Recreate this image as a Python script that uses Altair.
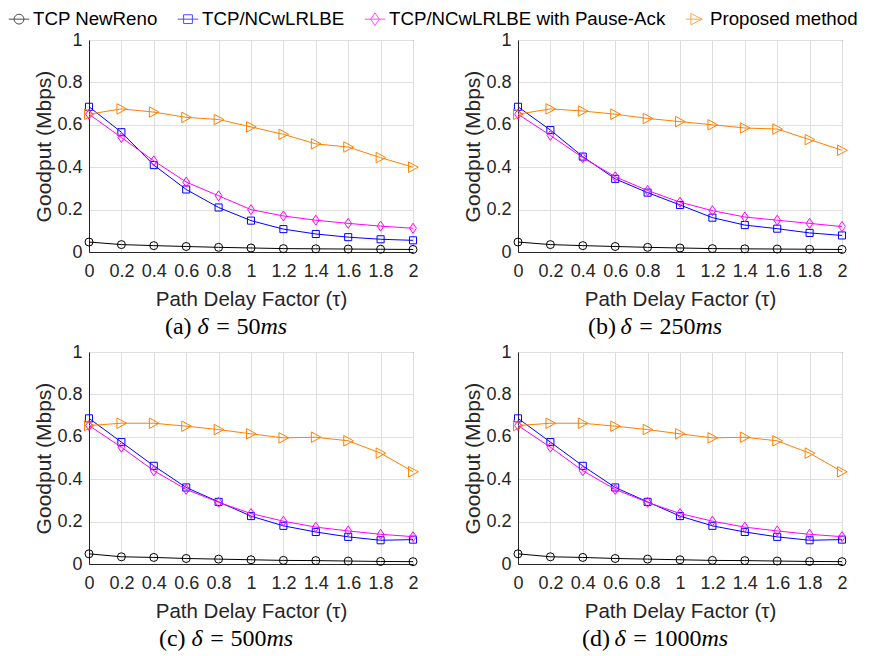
import altair as alt
import pandas as pd

# ---------------- data ----------------
tau = [0, 0.2, 0.4, 0.6, 0.8, 1.0, 1.2, 1.4, 1.6, 1.8, 2.0]
series_names = ["TCP NewReno", "TCP/NCwLRLBE", "TCP/NCwLRLBE with Pause-Ack", "Proposed method"]
series_colors = ["#000000", "#0000ff", "#ff00ff", "#ff8000"]

a_newreno = [0.047, 0.035, 0.030, 0.026, 0.022, 0.019, 0.016, 0.015, 0.014, 0.013, 0.012]
a_ncw     = [0.685, 0.565, 0.410, 0.295, 0.210, 0.148, 0.108, 0.085, 0.070, 0.060, 0.055]
a_pause   = [0.650, 0.540, 0.430, 0.330, 0.265, 0.200, 0.170, 0.150, 0.135, 0.122, 0.112]
a_prop    = [0.650, 0.675, 0.660, 0.635, 0.625, 0.590, 0.555, 0.510, 0.495, 0.445, 0.400]

b_newreno = [0.047, 0.035, 0.030, 0.026, 0.022, 0.019, 0.016, 0.015, 0.014, 0.013, 0.012]
b_ncw     = [0.685, 0.575, 0.450, 0.345, 0.280, 0.222, 0.162, 0.127, 0.110, 0.090, 0.078]
b_pause   = [0.650, 0.550, 0.445, 0.355, 0.290, 0.235, 0.195, 0.165, 0.150, 0.135, 0.120]
b_prop    = [0.650, 0.675, 0.665, 0.650, 0.630, 0.615, 0.600, 0.585, 0.580, 0.530, 0.480]

c_newreno = [0.048, 0.034, 0.031, 0.026, 0.023, 0.020, 0.017, 0.016, 0.014, 0.012, 0.011]
c_ncw     = [0.687, 0.575, 0.463, 0.361, 0.293, 0.226, 0.180, 0.151, 0.128, 0.112, 0.115]
c_pause   = [0.653, 0.551, 0.440, 0.352, 0.291, 0.238, 0.202, 0.174, 0.156, 0.140, 0.129]
c_prop    = [0.653, 0.664, 0.664, 0.650, 0.634, 0.614, 0.595, 0.598, 0.581, 0.523, 0.435]

d_newreno = [0.048, 0.034, 0.031, 0.026, 0.023, 0.020, 0.017, 0.016, 0.014, 0.012, 0.011]
d_ncw     = [0.687, 0.575, 0.463, 0.361, 0.293, 0.226, 0.180, 0.151, 0.128, 0.112, 0.115]
d_pause   = [0.653, 0.551, 0.440, 0.352, 0.291, 0.238, 0.202, 0.174, 0.156, 0.140, 0.129]
d_prop    = [0.653, 0.664, 0.664, 0.650, 0.634, 0.614, 0.595, 0.598, 0.581, 0.523, 0.435]

panel_letters = ["(a)", "(b)", "(c)", "(d)"]
panel_delays = ["50", "250", "500", "1000"]
x_ticks = [0, 0.2, 0.4, 0.6, 0.8, 1.0, 1.2, 1.4, 1.6, 1.8, 2.0]
y_ticks = [0, 0.2, 0.4, 0.6, 0.8, 1.0]

panel_values = [
    [a_newreno, a_ncw, a_pause, a_prop],
    [b_newreno, b_ncw, b_pause, b_prop],
    [c_newreno, c_ncw, c_pause, c_prop],
    [d_newreno, d_ncw, d_pause, d_prop],
]

# ---------------- styles ----------------
W, H = 324, 212
SANS = "Liberation Sans"
SERIF = "Liberation Serif"
AXIS_COLOR = "#262626"

marker_shapes = [
    "circle",
    "square",
    "M0,-1L0.68,0L0,1L-0.68,0Z",
    "M-0.85,-1L1,0L-0.85,1Z",
]
marker_sizes = [64, 50, 100, 110]
legend_shapes = [
    "M-0.48,0A0.48,0.48 0 1 0 0.48,0A0.48,0.48 0 1 0 -0.48,0Z M-1,0H1",
    "M-0.43,-0.43H0.43V0.43H-0.43Z M-1,0H1",
    "M0,-0.62L0.42,0L0,0.62L-0.42,0Z M-1,0H1",
    "M-0.5,-0.55L0.6,0L-0.5,0.55Z M-1,0H0.6",
]

LEGEND = dict(orient="none", direction="horizontal", columns=4,
              legendX=-81, legendY=-32, title=None,
              labelFont=SANS, labelFontSize=18.7, labelColor="#000000", labelLimit=0,
              symbolSize=420, symbolStrokeWidth=1, labelOffset=3,
              columnPadding=17, padding=0)


def make_panel(idx, show_legend=False):
    rows = []
    for name, vals in zip(series_names, panel_values[idx]):
        for t, v in zip(tau, vals):
            rows.append({"series": name, "tau": t, "goodput": v})
    df = pd.DataFrame(rows)
    base = alt.Chart(df)

    X = alt.X(
        "tau:Q",
        scale=alt.Scale(domain=[0, 2], nice=False, zero=False),
        axis=alt.Axis(
            values=x_ticks, format="~g", title="Path Delay Factor (τ)",
            grid=True, gridColor="#dfdfdf", domainColor=AXIS_COLOR,
            ticks=False, labelFont=SANS, labelFontSize=18, labelColor=AXIS_COLOR,
            labelPadding=10, labelFlush=False, labelOverlap=False,
            titleFont=SANS, titleFontSize=20.5, titleFontWeight="normal",
            titleColor=AXIS_COLOR, titlePadding=9,
        ),
    )
    Y = alt.Y(
        "goodput:Q",
        scale=alt.Scale(domain=[0, 1], nice=False),
        axis=alt.Axis(
            values=y_ticks, format="~g", title="Goodput (Mbps)",
            grid=True, gridColor="#dfdfdf", domainColor=AXIS_COLOR,
            ticks=False, labelFont=SANS, labelFontSize=18, labelColor=AXIS_COLOR,
            labelPadding=7, labelFlush=False,
            titleFont=SANS, titleFontSize=21, titleFontWeight="normal",
            titleColor=AXIS_COLOR, titlePadding=2,
        ),
    )

    layers = []
    for name, color, shape, size in zip(series_names, series_colors, marker_shapes, marker_sizes):
        sub = base.transform_filter(alt.datum.series == name)
        layers.append(sub.mark_line(color=color, strokeWidth=1, clip=False).encode(x=X, y=Y))
        layers.append(
            sub.mark_point(shape=shape, color=color, size=size, strokeWidth=1,
                           filled=False, opacity=1, clip=False).encode(x=X, y=Y)
        )

    if show_legend:
        leg = base.transform_filter(alt.datum.tau < -1).mark_point(filled=False, strokeWidth=1).encode(
            x=X, y=Y,
            color=alt.Color("series:N", scale=alt.Scale(domain=series_names, range=series_colors),
                            legend=alt.Legend(**LEGEND)),
            shape=alt.Shape("series:N", scale=alt.Scale(domain=series_names, range=legend_shapes),
                            legend=alt.Legend(**LEGEND)),
        )
        layers.append(leg)

    # caption tokens: "(a) δ = 50ms" with italic δ and ms
    fs = 24
    letter = panel_letters[idx]
    num = panel_delays[idx]
    w_letter = 1.11 * fs
    w_delta = 0.5 * fs
    w_eq = 0.564 * fs
    w_num = 0.5 * fs * len(num)
    w_ms = 1.111 * fs
    sp = 0.25 * fs
    msp = 0.278 * fs
    total = w_letter + sp + w_delta + msp + w_eq + msp + w_num + w_ms
    x0 = 137 - total / 2
    tokens = [
        (letter, x0, "normal"),
        ("δ", x0 + w_letter + sp, "italic"),
        ("=", x0 + w_letter + sp + w_delta + msp, "normal"),
        (num, x0 + w_letter + sp + w_delta + msp + w_eq + msp, "normal"),
        ("ms", x0 + w_letter + sp + w_delta + msp + w_eq + msp + w_num, "italic"),
    ]
    one = alt.Chart(pd.DataFrame({"k": [0]}))
    for txt, xx, style in tokens:
        layers.append(
            one.mark_text(font=SERIF, fontSize=fs, fontStyle=style, align="left",
                          baseline="alphabetic", color="#000000").encode(
                x=alt.value(xx), y=alt.value(H + 82), text=alt.value(txt))
        )

    return alt.layer(*layers).properties(width=W, height=H)


top = alt.hconcat(make_panel(0, show_legend=True), make_panel(1), spacing=41)
bottom = alt.hconcat(make_panel(2), make_panel(3), spacing=41)
chart = alt.vconcat(top, bottom, spacing=2).properties(padding=0).configure_view(
    stroke=AXIS_COLOR, strokeWidth=1
).configure_axis(domainWidth=1)

chart.save("out.html", embed_options={"renderer": "svg", "actions": False})
